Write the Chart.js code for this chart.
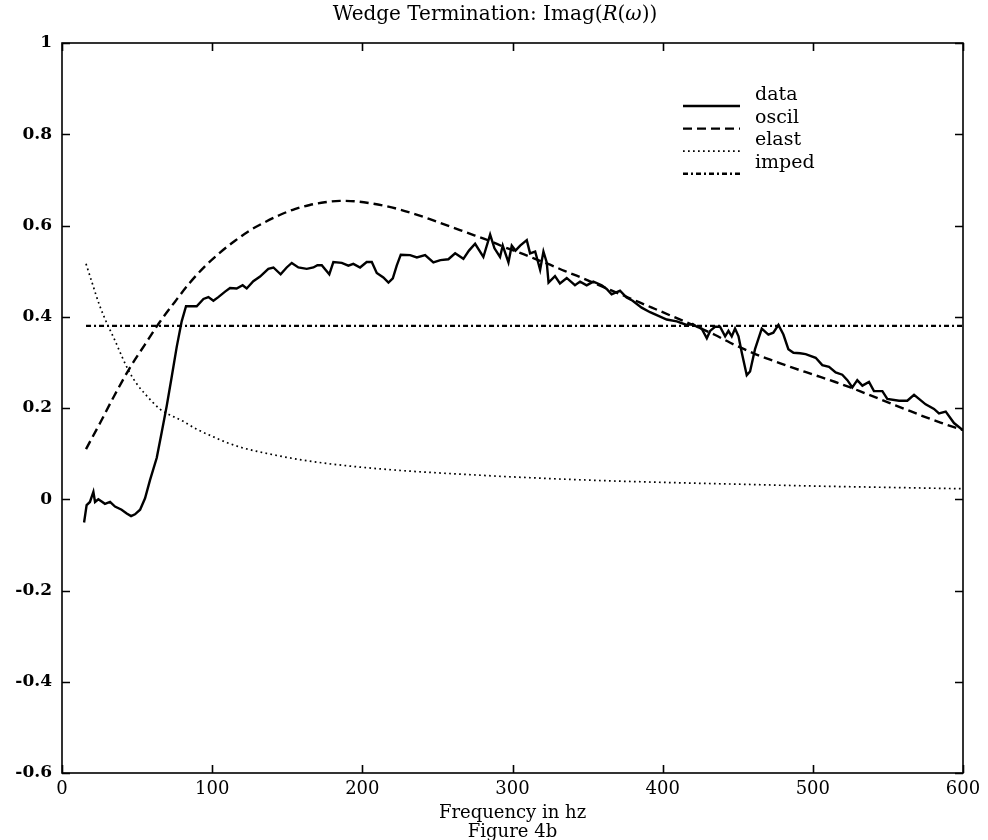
<!DOCTYPE html>
<html><head><meta charset="utf-8">
<script src="https://cdn.jsdelivr.net/npm/chart.js@4/dist/chart.umd.min.js"></script>
<style>html,body{margin:0;padding:0;background:#fff;}canvas{display:block;}</style>
</head><body>
<canvas id="c" width="988" height="840"></canvas>
<script>
// ---- data ----
const dataFreq = [14.7,16.4,18.6,20.9,22.0,24.2,26.4,28.6,32.0,35.3,39.7,43.1,46.0,48.6,52.0,55.3,58.6,63.1,66.4,69.7,73.1,76.4,79.7,82.6,86.4,89.7,94.2,97.5,100.8,104.1,108.6,111.9,116.3,120.3,123.0,127.4,131.9,137.4,140.8,145.6,149.6,153.0,157.4,163.0,167.4,170.1,173.0,175.2,178.0,180.7,186.3,190.7,194.0,198.5,202.9,206.3,209.6,214.0,217.4,220.3,222.9,225.6,231.8,236.3,241.8,247.3,252.0,257.3,261.8,267.3,271.0,275.1,280.6,285.1,288.0,291.7,293.5,297.3,299.5,302.0,305.1,309.5,311.7,315.1,318.4,320.6,322.8,324.0,328.3,331.6,336.1,341.6,345.0,349.4,353.8,359.4,362.7,366.0,371.6,376.0,380.0,386.0,391.6,397.2,402.7,409.4,416.0,420.0,422.7,426.0,429.4,431.6,434.9,438.2,441.6,443.8,446.0,448.2,450.5,452.7,456.0,458.2,461.5,466.0,470.4,473.7,477.1,480.4,483.7,487.1,491.5,495.2,501.9,506.3,510.8,515.2,519.6,523.0,526.3,529.6,533.0,537.4,540.7,546.3,549.6,557.4,562.9,567.4,570.7,575.1,580.7,584.0,588.5,594.0,600.0];
const dataVals = [-0.051,-0.013,-0.006,0.016,-0.006,0.000,-0.005,-0.010,-0.006,-0.016,-0.023,-0.031,-0.037,-0.033,-0.023,0.002,0.042,0.091,0.147,0.204,0.269,0.334,0.390,0.423,0.423,0.423,0.439,0.443,0.435,0.443,0.455,0.463,0.462,0.469,0.462,0.478,0.488,0.505,0.508,0.493,0.508,0.518,0.508,0.505,0.508,0.513,0.513,0.504,0.493,0.520,0.518,0.512,0.516,0.508,0.520,0.520,0.496,0.486,0.475,0.484,0.512,0.536,0.535,0.530,0.535,0.519,0.524,0.526,0.539,0.527,0.545,0.560,0.531,0.580,0.550,0.531,0.556,0.519,0.556,0.545,0.556,0.568,0.539,0.543,0.503,0.543,0.519,0.475,0.489,0.473,0.485,0.469,0.477,0.469,0.477,0.469,0.461,0.449,0.457,0.442,0.435,0.420,0.410,0.402,0.394,0.390,0.382,0.384,0.378,0.374,0.353,0.369,0.378,0.378,0.357,0.369,0.357,0.374,0.357,0.321,0.272,0.280,0.329,0.374,0.361,0.365,0.382,0.361,0.329,0.321,0.320,0.318,0.310,0.294,0.290,0.278,0.273,0.261,0.245,0.261,0.249,0.257,0.237,0.237,0.220,0.216,0.216,0.229,0.220,0.208,0.198,0.188,0.192,0.167,0.151];

const oscilFreq = [16,25,35,45,55,65,75,85,95,105,115,125,135,145,155,165,175,185,195,205,215,225,235,245,255,265,275,285,295,305,315,325,335,345,355,365,375,385,395,405,415,425,435,445,455,465,475,485,495,505,515,525,535,545,555,565,575,585,595,600];
const oscilVals = [0.110,0.165,0.228,0.287,0.338,0.388,0.432,0.474,0.510,0.540,0.566,0.589,0.607,0.623,0.636,0.645,0.651,0.654,0.653,0.649,0.643,0.635,0.625,0.614,0.602,0.590,0.578,0.566,0.552,0.540,0.527,0.514,0.500,0.487,0.473,0.459,0.445,0.431,0.417,0.403,0.389,0.375,0.360,0.343,0.328,0.314,0.302,0.290,0.279,0.268,0.257,0.245,0.232,0.219,0.206,0.193,0.180,0.168,0.157,0.152];

const elastFreq = [16,20,25,30,35,40,45,50,55,60,65,70,80,90,100,110,120,140,160,180,200,230,260,300,350,400,450,500,550,600];
const elastVals = [0.516,0.475,0.425,0.385,0.350,0.312,0.278,0.252,0.232,0.214,0.198,0.188,0.172,0.153,0.138,0.124,0.113,0.098,0.086,0.077,0.070,0.062,0.056,0.049,0.042,0.037,0.033,0.029,0.026,0.023];

const impedFreq = [16,600];
const impedVals = [0.38,0.38];

const seriesNames = ['data','oscil','elast','imped'];
const xTicks = [0,100,200,300,400,500,600];
const xTickLabels = ['0','100','200','300','400','500','600'];
const yTicks = [-0.6,-0.4,-0.2,0,0.2,0.4,0.6,0.8,1];
const yTickLabels = ['-0.6','-0.4','-0.2','0','0.2','0.4','0.6','0.8','1'];
const titleParts = [['Wedge Termination: Imag(',false],['R',true],['(',false],['\u03C9',true],['))',false]];
const xTitleLines = ['Frequency in hz','Figure 4b'];

// ---- chart ----
const pts = (xs, ys) => xs.map((x, i) => ({x: x, y: ys[i]}));
const SERIF = "'DejaVu Serif', 'Liberation Serif', serif";

const frameAndTicks = {
  id: 'frameAndTicks',
  afterDatasetsDraw(chart) {
    const {ctx, chartArea: a, scales: {x, y}} = chart;
    ctx.save();
    ctx.strokeStyle = '#000';
    ctx.lineWidth = 1.6;
    ctx.strokeRect(a.left, a.top, a.right - a.left, a.bottom - a.top);
    const L = 8;
    ctx.beginPath();
    xTicks.forEach(v => {
      const px = Math.round(x.getPixelForValue(v)) + 0.5;
      ctx.moveTo(px, a.bottom); ctx.lineTo(px, a.bottom - L);
      ctx.moveTo(px, a.top); ctx.lineTo(px, a.top + L);
    });
    yTicks.forEach(v => {
      const py = Math.round(y.getPixelForValue(v)) + 0.5;
      ctx.moveTo(a.left, py); ctx.lineTo(a.left + L, py);
      ctx.moveTo(a.right, py); ctx.lineTo(a.right - L, py);
    });
    ctx.stroke();
    ctx.restore();
  }
};

const titleDraw = {
  id: 'titleDraw',
  afterDraw(chart) {
    const ctx = chart.ctx;
    ctx.save();
    ctx.fillStyle = '#000';
    ctx.textBaseline = 'middle';
    const fontFor = it => (it ? 'italic ' : '') + '20px ' + SERIF;
    let total = 0;
    titleParts.forEach(([t, it]) => { ctx.font = fontFor(it); total += ctx.measureText(t).width; });
    let cx = 495 - total / 2;
    titleParts.forEach(([t, it]) => {
      ctx.font = fontFor(it);
      ctx.textAlign = 'left';
      ctx.fillText(t, cx, 15);
      cx += ctx.measureText(t).width;
    });
    ctx.restore();
  }
};

const legendDraw = {
  id: 'legendDraw',
  afterDraw(chart) {
    const ctx = chart.ctx;
    ctx.save();
    chart.data.datasets.forEach((ds, i) => {
      const ty = 95 + 22.6 * i;
      const ly = ty + 11;
      ctx.strokeStyle = ds.borderColor;
      ctx.lineWidth = ds.borderWidth;
      ctx.setLineDash(ds.borderDash || []);
      ctx.beginPath();
      ctx.moveTo(683, ly); ctx.lineTo(740, ly);
      ctx.stroke();
      ctx.setLineDash([]);
      ctx.fillStyle = '#000';
      ctx.font = '19px ' + SERIF;
      ctx.textAlign = 'left';
      ctx.textBaseline = 'middle';
      ctx.fillText(ds.label, 755, ty);
    });
    ctx.restore();
  }
};

new Chart(document.getElementById('c'), {
  type: 'line',
  data: {
    datasets: [
      {label: seriesNames[0], data: pts(dataFreq, dataVals), borderColor: '#000', borderWidth: 2.4, pointRadius: 0, tension: 0, fill: false},
      {label: seriesNames[1], data: pts(oscilFreq, oscilVals), borderColor: '#000', borderWidth: 2.4, borderDash: [9, 5], pointRadius: 0, cubicInterpolationMode: 'monotone', fill: false},
      {label: seriesNames[2], data: pts(elastFreq, elastVals), borderColor: '#000', borderWidth: 1.7, borderDash: [1.7, 3.3], pointRadius: 0, cubicInterpolationMode: 'monotone', fill: false},
      {label: seriesNames[3], data: pts(impedFreq, impedVals), borderColor: '#000', borderWidth: 2.4, borderDash: [5, 3, 2, 3], pointRadius: 0, fill: false}
    ]
  },
  options: {
    responsive: false,
    animation: false,
    devicePixelRatio: 1,
    layout: {padding: {top: 43, right: 25, left: 0, bottom: 0}},
    plugins: {legend: {display: false}, title: {display: false}, tooltip: {enabled: false}},
    scales: {
      x: {
        type: 'linear', min: 0, max: 600,
        afterBuildTicks: s => { s.ticks = xTicks.map(v => ({value: v})); },
        ticks: {color: '#000', font: {family: SERIF, size: 18}, padding: 6, maxRotation: 0, autoSkip: false,
                callback: (v, i) => xTickLabels[i]},
        grid: {display: false, drawTicks: false},
        border: {display: false},
        title: {display: true, text: xTitleLines, color: '#000', font: {family: SERIF, size: 18, lineHeight: 1.05}, padding: {top: 0, bottom: -2}},
        afterFit: s => { s.height = 67; }
      },
      y: {
        type: 'linear', min: -0.6, max: 1,
        afterBuildTicks: s => { s.ticks = yTicks.map(v => ({value: v})); },
        ticks: {color: '#000', font: {family: SERIF, size: 17, weight: 'bold'}, padding: 10, autoSkip: false,
                callback: (v, i) => yTickLabels[i]},
        grid: {display: false, drawTicks: false},
        border: {display: false},
        afterFit: s => { s.width = 62; }
      }
    }
  },
  plugins: [frameAndTicks, titleDraw, legendDraw]
});
</script>
</body></html>
